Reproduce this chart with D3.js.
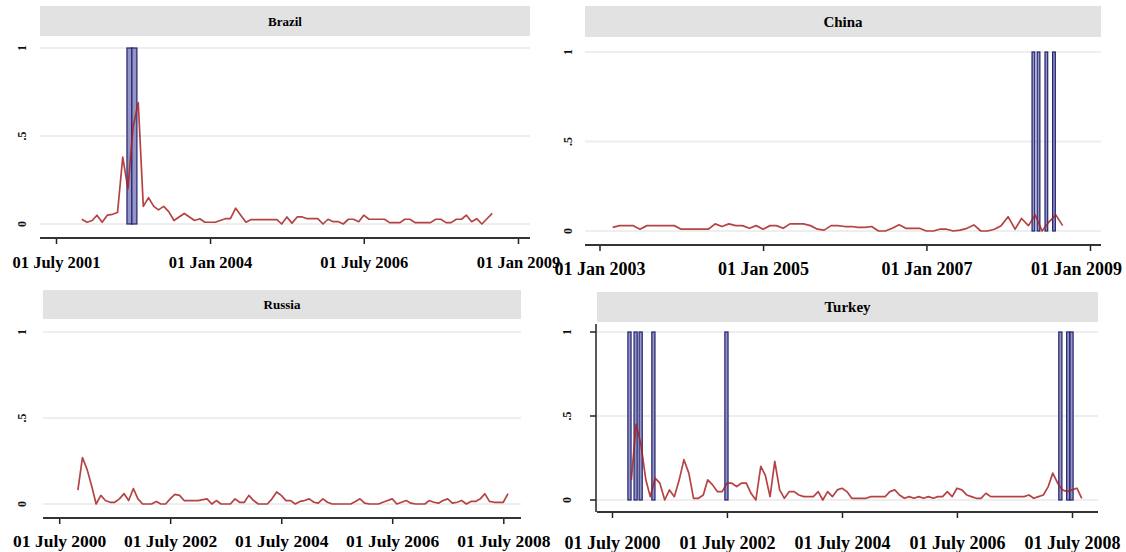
<!DOCTYPE html>
<html>
<head>
<meta charset="utf-8">
<script src="https://cdn.jsdelivr.net/npm/d3@7"></script>
<style>
  body { margin: 0; background: #fff; }
  svg { display: block; font-family: "Liberation Serif", "DejaVu Serif", serif; }
</style>
</head>
<body>
<svg id="chart" width="1126" height="552"></svg>
<script>
// monthly series, first month in *Start
const brazilStart = '2001-12-01';
const brazilValues = [
  0.027, 0.01, 0.02, 0.05, 0.01, 0.05, 0.055, 0.065, 0.38, 0.2,
  0.55, 0.69, 0.1, 0.15, 0.1, 0.08, 0.1, 0.07, 0.02, 0.04,
  0.06, 0.04, 0.02, 0.03, 0.01, 0.01, 0.01, 0.02, 0.03, 0.03,
  0.09, 0.05, 0.01, 0.025, 0.025, 0.025, 0.025, 0.025, 0.025, 0.0,
  0.04, 0.005, 0.04, 0.04, 0.03, 0.03, 0.03, 0.0, 0.027, 0.013,
  0.013, 0.0, 0.027, 0.027, 0.013, 0.05, 0.027, 0.027, 0.027, 0.027,
  0.008, 0.008, 0.008, 0.027, 0.027, 0.008, 0.008, 0.008, 0.008, 0.027,
  0.027, 0.008, 0.008, 0.027, 0.027, 0.05, 0.013, 0.03, 0.0, 0.03,
  0.06
];
const chinaStart = '2003-03-01';
const chinaValues = [
  0.02, 0.03, 0.03, 0.03, 0.01, 0.03, 0.03, 0.03, 0.03, 0.03,
  0.01, 0.01, 0.01, 0.01, 0.01, 0.04, 0.025, 0.04, 0.03, 0.03,
  0.015, 0.03, 0.01, 0.03, 0.03, 0.015, 0.04, 0.04, 0.04, 0.03,
  0.01, 0.005, 0.03, 0.03, 0.025, 0.025, 0.02, 0.02, 0.025, 0.0,
  0.0, 0.015, 0.035, 0.015, 0.015, 0.015, 0.0, 0.0, 0.01, 0.01,
  0.0, 0.005, 0.015, 0.034, 0.0, 0.0, 0.01, 0.03, 0.08, 0.01,
  0.07, 0.03, 0.09, 0.0, 0.05, 0.09, 0.03
];
const russiaStart = '2000-11-01';
const russiaValues = [
  0.08, 0.27, 0.2, 0.1, 0.0, 0.05, 0.02, 0.01, 0.01, 0.03,
  0.06, 0.02, 0.09, 0.03, 0.0, 0.0, 0.0, 0.015, 0.0, 0.0,
  0.03, 0.056, 0.05, 0.02, 0.02, 0.02, 0.02, 0.025, 0.03, 0.0,
  0.02, 0.0, 0.0, 0.0, 0.03, 0.01, 0.01, 0.05, 0.02, 0.0,
  0.0, 0.0, 0.03, 0.07, 0.05, 0.02, 0.02, 0.0, 0.015, 0.02,
  0.03, 0.01, 0.005, 0.03, 0.01, 0.0, 0.0, 0.0, 0.0, 0.0,
  0.015, 0.03, 0.005, 0.0, 0.0, 0.0, 0.01, 0.02, 0.03, 0.0,
  0.01, 0.02, 0.005, 0.0, 0.0, 0.0, 0.02, 0.01, 0.005, 0.02,
  0.03, 0.005, 0.01, 0.02, 0.0, 0.015, 0.015, 0.03, 0.06, 0.015,
  0.01, 0.01, 0.01, 0.06
];
const turkeyStart = '2000-11-01';
const turkeyValues = [
  0.12, 0.45, 0.33, 0.12, 0.02, 0.13, 0.10, 0.0, 0.06, 0.02,
  0.12, 0.24, 0.16, 0.01, 0.01, 0.03, 0.12, 0.09, 0.05, 0.05,
  0.10, 0.10, 0.08, 0.10, 0.10, 0.04, 0.0, 0.20, 0.15, 0.02,
  0.23, 0.06, 0.01, 0.05, 0.05, 0.03, 0.02, 0.02, 0.02, 0.05,
  0.0, 0.05, 0.02, 0.06, 0.07, 0.05, 0.01, 0.01, 0.01, 0.01,
  0.02, 0.02, 0.02, 0.02, 0.05, 0.06, 0.03, 0.01, 0.02, 0.01,
  0.02, 0.01, 0.02, 0.01, 0.02, 0.02, 0.05, 0.02, 0.07, 0.06,
  0.03, 0.02, 0.01, 0.01, 0.04, 0.02, 0.02, 0.02, 0.02, 0.02,
  0.02, 0.02, 0.02, 0.03, 0.01, 0.02, 0.03, 0.08, 0.16, 0.10,
  0.06, 0.05, 0.06, 0.07, 0.01
];

// crisis months (indicator = 1)
const brazilCrises = ['2002-09-10', '2002-10-09'];
const chinaCrises = ['2008-04-23', '2008-05-16', '2008-06-20', '2008-07-24'];
const russiaCrises = [];
const turkeyCrises = ['2000-10-20', '2000-11-28', '2000-12-30', '2001-03-21',
                      '2002-06-28', '2008-04-18', '2008-06-07', '2008-06-28'];

// tick labels
const brazilTicks = ['2001-07-01', '2004-01-01', '2006-07-01', '2009-01-01'];
const brazilTickLabels = ['01 July 2001', '01 Jan 2004', '01 July 2006', '01 Jan 2009'];
const chinaTicks = ['2003-01-01', '2005-01-01', '2007-01-01', '2009-01-01'];
const chinaTickLabels = ['01 Jan 2003', '01 Jan 2005', '01 Jan 2007', '01 Jan 2009'];
const julyTicks = ['2000-07-01', '2002-07-01', '2004-07-01', '2006-07-01', '2008-07-01'];
const julyTickLabels = ['01 July 2000', '01 July 2002', '01 July 2004', '01 July 2006', '01 July 2008'];
const yTicks = [0, 0.5, 1];
const yTickLabels = ['0', '.5', '1'];

const parse = d3.utcParse('%Y-%m-%d');
const LINE_COLOR = '#a82222';

// layout of the four facets
const panels = [
  { name: 'Brazil', start: brazilStart, values: brazilValues, crises: brazilCrises, barDays: 30,
    ticks: brazilTicks, tickLabels: brazilTickLabels, domain: ['2001-07-01', '2009-01-01'], range: [56, 518],
    left: 40, right: 530, y0: 224, y1: 48, axisY: 238, strip: [6, 36], labelX: 22, leftAxis: false,
    tickFont: 16.5, tickPad: 12, stripFont: 13 },
  { name: 'China', start: chinaStart, values: chinaValues, crises: chinaCrises, barDays: 12,
    ticks: chinaTicks, tickLabels: chinaTickLabels, domain: ['2003-01-01', '2009-01-01'], range: [599.5, 1090],
    left: 585, right: 1101, y0: 231, y1: 52, axisY: 245, strip: [6, 37], labelX: 568, leftAxis: false,
    tickFont: 18, tickPad: 11, stripFont: 15 },
  { name: 'Russia', start: russiaStart, values: russiaValues, crises: russiaCrises, barDays: 20,
    ticks: julyTicks, tickLabels: julyTickLabels, domain: ['2000-07-01', '2008-07-01'], range: [59.2, 503.3],
    left: 43, right: 521, y0: 504, y1: 332, axisY: 518, strip: [290, 319], labelX: 22, leftAxis: false,
    tickFont: 17.5, tickPad: 11, stripFont: 13 },
  { name: 'Turkey', start: turkeyStart, values: turkeyValues, crises: turkeyCrises, barDays: 20,
    ticks: julyTicks, tickLabels: julyTickLabels, domain: ['2000-07-01', '2008-07-01'], range: [612, 1072],
    left: 597, right: 1098, y0: 500, y1: 332, axisY: 512, strip: [292, 322], labelX: 567, leftAxis: true,
    tickFont: 18, tickPad: 18, stripFont: 15 }
];

const svg = d3.select('#chart');
const SVG_W = +svg.attr('width');

panels.forEach((p) => {
  const x = d3.scaleUtc().domain(p.domain.map(parse)).range(p.range);
  const y = d3.scaleLinear().domain([0, 1]).range([p.y0, p.y1]);
  const start = parse(p.start);
  const series = p.values.map((v, i) => ({ date: d3.utcMonth.offset(start, i), v: v }));

  const g = svg.append('g').attr('class', 'panel');

  /** strip */
  g.append('rect')
    .attr('x', p.left).attr('y', p.strip[0])
    .attr('width', p.right - p.left).attr('height', p.strip[1] - p.strip[0])
    .attr('fill', '#e2e2e2');
  g.append('text')
    .attr('x', (p.left + p.right) / 2).attr('y', (p.strip[0] + p.strip[1]) / 2)
    .attr('text-anchor', 'middle').attr('dominant-baseline', 'central')
    .style('font-size', p.stripFont + 'px').style('font-weight', 'bold')
    .text(p.name);

  /** grid */
  g.selectAll('line.grid').data(yTicks).enter().append('line')
    .attr('class', 'grid')
    .attr('x1', p.left).attr('x2', p.right)
    .attr('y1', (d) => y(d)).attr('y2', (d) => y(d))
    .attr('stroke', '#eeeeee').attr('stroke-width', 2);

  /** y labels, rotated */
  g.selectAll('text.ylab').data(yTicks).enter().append('text')
    .attr('class', 'ylab')
    .attr('x', p.labelX).attr('y', (d) => y(d))
    .attr('transform', (d) => `rotate(-90, ${p.labelX}, ${y(d)})`)
    .attr('text-anchor', 'middle').attr('dominant-baseline', 'central')
    .style('font-size', '12px').style('font-weight', 'bold').attr('fill', '#111')
    .text((d, i) => yTickLabels[i]);

  /** crisis bars */
  g.selectAll('rect.crisis').data(p.crises.map(parse)).enter().append('rect')
    .attr('class', 'crisis')
    .attr('x', (d) => x(d3.utcDay.offset(d, -p.barDays / 2)))
    .attr('width', (d) => x(d3.utcDay.offset(d, p.barDays / 2)) - x(d3.utcDay.offset(d, -p.barDays / 2)))
    .attr('y', y(1)).attr('height', y(0) - y(1))
    .attr('fill', '#9494c6').attr('stroke', '#23236e').attr('stroke-width', 1.2);

  /** probability line */
  g.append('path')
    .datum(series)
    .attr('fill', 'none')
    .attr('stroke', LINE_COLOR).attr('stroke-width', 1.7).attr('stroke-opacity', 0.85)
    .attr('stroke-linejoin', 'round')
    .attr('d', d3.line().x((d) => x(d.date)).y((d) => y(d.v)));

  /** x axis */
  const ax = g.append('g')
    .attr('transform', `translate(0, ${p.axisY})`)
    .call(d3.axisBottom(x)
      .tickValues(p.ticks.map(parse))
      .tickFormat((d, i) => p.tickLabels[i])
      .tickSize(6).tickPadding(p.tickPad));
  ax.select('.domain').remove();
  ax.selectAll('.tick line').attr('stroke', '#222').attr('stroke-width', 1.5);
  ax.selectAll('.tick text')
    .attr('fill', '#000')
    .style('font-family', '"Liberation Serif", serif')
    .style('font-size', p.tickFont + 'px').style('font-weight', 'bold');
  // keep the last label inside the picture
  ax.selectAll('.tick').each(function () {
    const t = d3.select(this).select('text');
    const box = this.getBBox();
    const m = this.transform.baseVal.consolidate().matrix;
    const overflow = m.e + box.x + box.width - (SVG_W - 4);
    if (overflow > 0) t.attr('dx', -overflow);
  });
  ax.append('line')
    .attr('x1', p.left).attr('x2', p.right)
    .attr('stroke', '#333').attr('stroke-width', 2);

  if (p.leftAxis) {
    g.append('line')
      .attr('x1', p.left - 1).attr('x2', p.left - 1)
      .attr('y1', y(1) - 8).attr('y2', p.axisY)
      .attr('stroke', '#222').attr('stroke-width', 1.5);
    g.selectAll('line.ytick').data(yTicks).enter().append('line')
      .attr('class', 'ytick')
      .attr('x1', p.left - 7).attr('x2', p.left - 1)
      .attr('y1', (d) => y(d)).attr('y2', (d) => y(d))
      .attr('stroke', '#222').attr('stroke-width', 1.5);
  }
});
</script>
</body>
</html>
